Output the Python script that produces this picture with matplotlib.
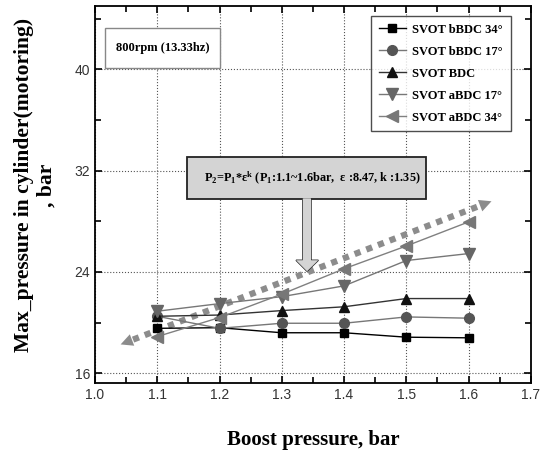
import numpy as np
import matplotlib
matplotlib.use("Agg")
import matplotlib.pyplot as plt
from matplotlib.patches import Rectangle, Polygon
from matplotlib.ticker import MultipleLocator, FormatStrFormatter

# data
boost = [1.1, 1.2, 1.3, 1.4, 1.5, 1.6]
bbdc34 = [19.55, 19.6, 19.2, 19.2, 18.85, 18.8]
bbdc17 = [20.5, 19.55, 19.95, 19.95, 20.45, 20.35]
bdc = [20.5, 20.6, 20.95, 21.25, 21.9, 21.9]
abdc17 = [20.9, 21.5, 22.05, 22.9, 24.9, 25.45]
abdc34 = [18.9, 20.4, 22.25, 24.25, 26.05, 27.95]
labels = ["SVOT bBDC 34\u00b0", "SVOT bBDC 17\u00b0", "SVOT BDC",
          "SVOT aBDC 17\u00b0", "SVOT aBDC 34\u00b0"]

serif = "Liberation Serif"
sans = "Liberation Sans"

fig = plt.figure(figsize=(5.45, 4.57), dpi=100)
ax = fig.add_axes([0.1743, 0.161, 0.7997, 0.826])

# series: (values, line colour, marker, marker colour, marker size)
styles = [
    (bbdc34, "#000000", "s", "#000000", 6),
    (bbdc17, "#777777", "o", "#555555", 7),
    (bdc, "#333333", "^", "#111111", 7),
    (abdc17, "#777777", "v", "#666666", 8),
    (abdc34, "#808080", "<", "#777777", 8),
]
for (vals, lc, mk, mc, ms), lab in zip(styles, labels):
    ax.plot(boost, vals, color=lc, lw=1.0, marker=mk, ms=ms,
            mfc=mc, mec=mc, label=lab, zorder=4)

ax.set_xlim(1.0, 1.7)
ax.set_ylim(15.2, 45)
ax.xaxis.set_major_locator(MultipleLocator(0.1))
ax.xaxis.set_minor_locator(MultipleLocator(0.05))
ax.yaxis.set_minor_locator(MultipleLocator(4))
ax.set_yticks([16, 24, 32, 40])
ax.tick_params(which="both", direction="in", top=True, right=True,
               labelsize=10, labelcolor="#333333")
ax.tick_params(which="major", length=5, width=1.2)
ax.tick_params(which="minor", length=4, width=1.2)
for lab in ax.get_xticklabels() + ax.get_yticklabels():
    lab.set_fontfamily(sans)
ax.xaxis.set_major_formatter(FormatStrFormatter("%.1f"))
ax.grid(True, which="major", ls=":", color="#555555", lw=0.8)
for s in ax.spines.values():
    s.set_linewidth(1.3)

ax.set_xlabel("Boost pressure, bar", family=serif, weight="bold",
              fontsize=15, labelpad=20)
ax.set_ylabel("Max_pressure in cylinder(motoring)\n, bar", family=serif,
              weight="bold", fontsize=15.5, linespacing=1.15)
ax.yaxis.set_label_coords(-0.088, 0.525)

# dotted double arrow
x0, y0, x1, y1 = 1.037, 18.2, 1.641, 29.66
dx, dy = x1 - x0, y1 - y0
ax.plot([x0 + 0.04 * dx, x1 - 0.04 * dx], [y0 + 0.04 * dy, y1 - 0.04 * dy],
        ls=(0, (1, 1)), lw=4.5, color="#8c8c8c", zorder=3)
for tip, back in [((x1, y1), (x1 - 0.05 * dx, y1 - 0.05 * dy)),
                  ((x0, y0), (x0 + 0.05 * dx, y0 + 0.05 * dy))]:
    ax.annotate("", xy=tip, xytext=back,
                arrowprops=dict(arrowstyle="-|>", color="#8c8c8c",
                                mutation_scale=22, lw=0), zorder=3)

# pixel -> data helpers for the boxes
px = lambda x: 1.0 + (x - 95) / 622.5
py = lambda y: 24 - (y - 271.7) / 12.66

# rpm box
ax.add_patch(Rectangle((px(105), py(68.3)), px(220) - px(105), py(27.7) - py(68.3),
                       fc="white", ec="#888888", lw=1, zorder=5))
ax.text((px(105) + px(220)) / 2, (py(27.7) + py(68.3)) / 2, "800rpm (13.33hz)",
        family=serif, weight="bold", fontsize=9, ha="center", va="center", zorder=6)

# callout box with arrow
ax.add_patch(Rectangle((px(187), py(198.3)), px(426) - px(187), py(156.7) - py(198.3),
                       fc="#d4d4d4", ec="#222222", lw=1.3, zorder=5))
arrow = [(px(302.7), py(198.3)), (px(302.7), py(260)), (px(296), py(260)),
         (px(307), py(271)), (px(318.3), py(260)), (px(311), py(260)),
         (px(311), py(198.3))]
ax.add_patch(Polygon(arrow, closed=False, fc="#d4d4d4", ec="#222222", lw=1.0, zorder=5))
ax.add_patch(Polygon(arrow, closed=True, fc="#d4d4d4", ec="none", zorder=5))
eps = "\u03b5"
ax.text(px(312), (py(156.7) + py(198.3)) / 2,
        r"P$\mathregular{_2}$=P$\mathregular{_1}$*" + eps
        + r"$\mathregular{^k}$ (P$\mathregular{_1}$:1.1~1.6bar,  " + eps
        + " :8.47, k :1.35)",
        family=serif, weight="bold", fontsize=8.8, ha="center", va="center", zorder=6)

leg = ax.legend(loc="upper right", bbox_to_anchor=(0.962, 0.983), frameon=True,
                fancybox=False, edgecolor="#222222", handlelength=2.2,
                handletextpad=0.5, borderaxespad=0.3,
                prop=dict(family=serif, weight="bold", size=9),
                labelspacing=0.8, borderpad=0.6)
leg.get_frame().set_linewidth(1.0)

fig.savefig("out.png", dpi=100)
